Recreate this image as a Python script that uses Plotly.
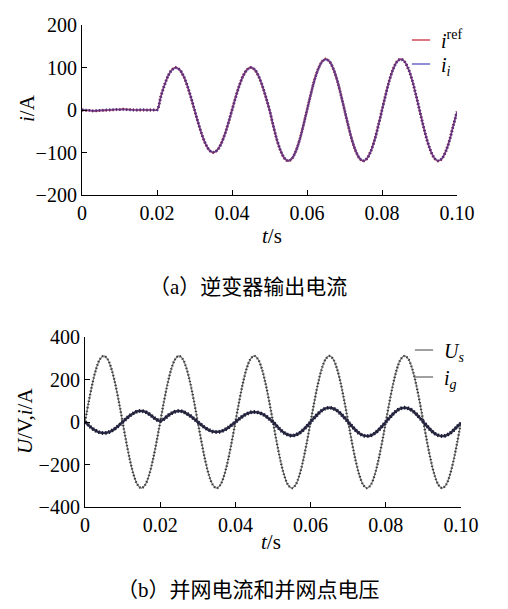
import plotly.graph_objects as go

# time axis, ms
t_ms = list(range(0, 101))

# (a) inverter output current, A
i_ref = [0, -1, -1, -2, -2, -1, -1, 0, 0, 1, 1, 2, 1, 1, 0, 0, 0, 0, 0, 0, 0,
         31, 59, 81, 95, 100, 95, 81, 59, 31, 0,
         -31, -59, -81, -95, -100, -95, -81, -59, -31, 0,
         31, 59, 81, 95, 100, 95, 81, 59, 31, 0,
         -37, -71, -97, -114, -120, -114, -97, -71, -37, 0,
         37, 71, 97, 114, 120, 114, 97, 71, 37, 0,
         -37, -71, -97, -114, -120, -114, -97, -71, -37, 0,
         37, 71, 97, 114, 120, 114, 97, 71, 37, 0,
         -37, -71, -97, -114, -120, -114, -97, -71, -37, -4]
i_i = [0, 0, -1, -2, -1, -1, 0, 0, 1, 1, 1, 1, 1, 0, 0, 0, 1, 0, 0, 0, 0,
       30, 58, 81, 94, 99, 95, 82, 60, 32, 1,
       -30, -58, -80, -95, -99, -95, -82, -60, -32, -1,
       30, 58, 80, 94, 100, 96, 82, 60, 32, 1,
       -36, -70, -96, -113, -119, -114, -98, -72, -38, -1,
       36, 70, 96, 113, 119, 114, 98, 72, 38, 1,
       -36, -70, -96, -113, -119, -114, -98, -72, -38, -1,
       36, 70, 96, 113, 119, 114, 98, 72, 38, 1,
       -36, -70, -96, -113, -119, -114, -98, -72, -38, -4]

# (b) grid voltage (V) and grid current (A)
u_s = [0, 96, 183, 252, 296, 311, 296, 252, 183, 96,
       0, -96, -183, -252, -296, -311, -296, -252, -183, -96,
       0, 96, 183, 252, 296, 311, 296, 252, 183, 96,
       0, -96, -183, -252, -296, -311, -296, -252, -183, -96,
       0, 96, 183, 252, 296, 311, 296, 252, 183, 96,
       0, -96, -183, -252, -296, -311, -296, -252, -183, -96,
       0, 96, 183, 252, 296, 311, 296, 252, 183, 96,
       0, -96, -183, -252, -296, -311, -296, -252, -183, -96,
       0, 96, 183, 252, 296, 311, 296, 252, 183, 96,
       0, -96, -183, -252, -296, -311, -296, -252, -183, -96,
       0]
i_g = [0, -16, -31, -42, -50, -52, -50, -42, -31, -16,
       0, 16, 31, 42, 50, 52, 48, 38, 25, 12,
       5, 14, 29, 41, 49, 52, 49, 40, 29, 15,
       0, -14, -28, -38, -45, -47, -45, -38, -28, -14,
       0, 14, 28, 38, 45, 47, 45, 39, 29, 15,
       0, -19, -37, -51, -60, -64, -61, -52, -38, -20,
       0, 20, 39, 54, 64, 67, 64, 54, 39, 20,
       0, -20, -39, -54, -63, -66, -63, -54, -39, -20,
       0, 20, 39, 54, 64, 67, 64, 54, 39, 20,
       0, -20, -39, -54, -63, -66, -63, -54, -39, -21,
       -6]

x_ticks = [0, 0.02, 0.04, 0.06, 0.08, 0.10]
x_labels = ["0", "0.02", "0.04", "0.06", "0.08", "0.10"]
ya_ticks = [-200, -100, 0, 100, 200]
yb_ticks = [-400, -200, 0, 200, 400]

t = [v / 1000 for v in t_ms]

# the page body keeps its default 8px margin, so the figure is drawn
# 8px in from the window edge; positions below are window pixels
OFF = 8
W, H = 508 - 2 * OFF, 609 - 2 * OFF
SERIF = "Liberation Serif"
CAPTION = "Liberation Serif, Noto Sans CJK SC"


def px_x(p):
    return (p - OFF) / W


def px_y(p):
    return 1 - (p - OFF) / H


def curve(x, y, color, width, xa, ya, dots, opacity=1.0):
    """Solid line plus a dotted overlay that mimics the dense markers."""
    base = go.Scatter(x=x, y=y, mode="lines", xaxis=xa, yaxis=ya,
                      line=dict(color=color, width=width, shape="spline"),
                      opacity=opacity, showlegend=False, hoverinfo="skip")
    bead = go.Scatter(x=x, y=y, mode="lines", xaxis=xa, yaxis=ya,
                      line=dict(color=dots, width=width + 1.2, shape="spline",
                                dash="1.2px,2.2px"),
                      opacity=opacity, showlegend=False, hoverinfo="skip")
    return [base, bead]


def legend_entry(name, color, legend):
    return go.Scatter(x=[None], y=[None], mode="markers", name=name,
                      legend=legend,
                      marker=dict(symbol="line-ew-open", size=13, color=color,
                                  line=dict(color=color, width=1.3)))


fig = go.Figure()
for tr in curve(t, i_ref, "#c8324a", 1.6, "x", "y", "#8a2040"):
    fig.add_trace(tr)
for tr in curve(t, i_i, "#4848b0", 1.6, "x", "y", "#3a2a80", opacity=0.6):
    fig.add_trace(tr)
for tr in curve(t, u_s, "#7c7c7c", 1.2, "x2", "y2", "#3a3a3a"):
    fig.add_trace(tr)
for tr in curve(t, i_g, "#2e2e4c", 2.6, "x2", "y2", "#1c1c30"):
    fig.add_trace(tr)

# one legend per entry so each can sit where the reference has it
fig.add_trace(legend_entry("<i>i</i><sup>ref</sup>", "#d04a5a", "legend"))
fig.add_trace(legend_entry("<i>i</i><sub><i>i</i></sub>", "#6a6ac8", "legend2"))
fig.add_trace(legend_entry("<i>U</i><sub><i>s</i></sub>", "#808080", "legend3"))
fig.add_trace(legend_entry("<i>i</i><sub><i>g</i></sub>", "#808080", "legend4"))

axis_common = dict(showline=True, linecolor="black", linewidth=1.2,
                   ticks="inside", ticklen=5, tickcolor="black",
                   showgrid=False, zeroline=False, automargin=False,
                   tickfont=dict(family=SERIF, size=20, color="black"))

legend_common = dict(xanchor="left", yanchor="middle", bgcolor="rgba(0,0,0,0)",
                     itemwidth=30, borderwidth=0,
                     font=dict(family=SERIF, size=20, color="black"))

fig.update_layout(
    width=W, height=H,
    margin=dict(l=0, r=0, t=0, b=0, autoexpand=False),
    paper_bgcolor="white", plot_bgcolor="white",
    xaxis=dict(domain=[px_x(82), px_x(457)], range=[0, 0.1], anchor="y",
               tickvals=x_ticks, ticktext=x_labels, **axis_common),
    yaxis=dict(domain=[px_y(195), px_y(25)], range=[-200, 200], anchor="x",
               tickvals=ya_ticks, **axis_common),
    xaxis2=dict(domain=[px_x(85), px_x(461)], range=[0, 0.1], anchor="y2",
                tickvals=x_ticks, ticktext=x_labels, **axis_common),
    yaxis2=dict(domain=[px_y(507), px_y(337)], range=[-400, 400], anchor="x2",
                tickvals=yb_ticks, **axis_common),
    legend=dict(x=px_x(401), y=px_y(40), **legend_common),
    legend2=dict(x=px_x(401), y=px_y(64), **legend_common),
    legend3=dict(x=px_x(404), y=px_y(350), **legend_common),
    legend4=dict(x=px_x(404), y=px_y(377), **legend_common),
)

texts = [
    ("<i>i</i>/A", 27, 108, 21, -90, SERIF),
    ("<i>U</i>/V,<i>i</i>/A", 25, 421, 21, -90, SERIF),
    ("<i>t</i>/s", 272, 236, 21, 0, SERIF),
    ("<i>t</i>/s", 271, 542, 21, 0, SERIF),
    ("（a）逆变器输出电流", 248, 287, 21, 0, CAPTION),
    ("（b）并网电流和并网点电压", 248, 590, 21, 0, CAPTION),
]
for txt, x, y, size, ang, fam in texts:
    fig.add_annotation(text=txt, x=px_x(x), y=px_y(y), xref="paper",
                       yref="paper", showarrow=False, textangle=ang,
                       xanchor="center", yanchor="middle",
                       font=dict(family=fam, size=size, color="black"))

fig.write_html("out.html")
